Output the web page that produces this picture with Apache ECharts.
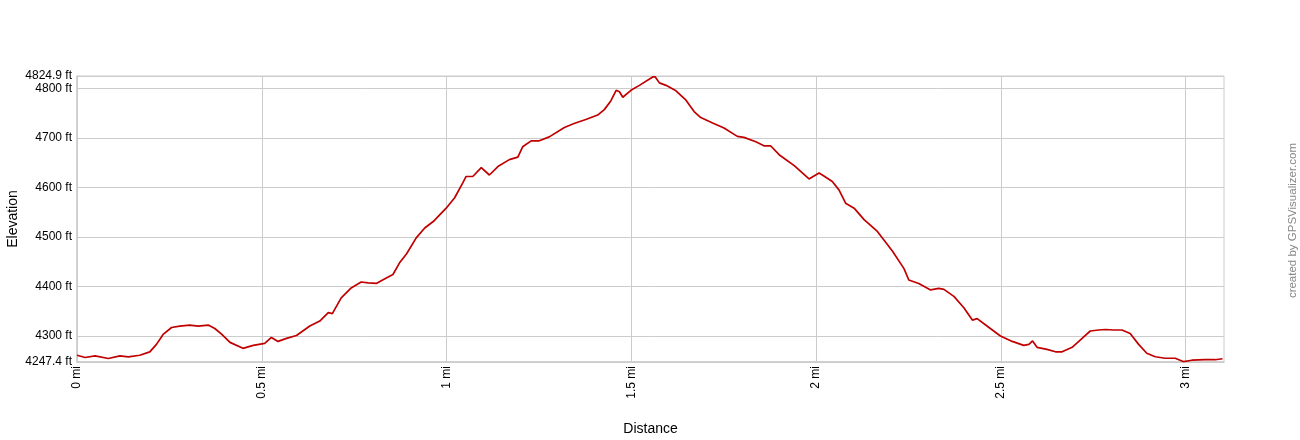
<!DOCTYPE html>
<html>
<head>
<meta charset="utf-8">
<script src="https://cdn.jsdelivr.net/npm/echarts@6/dist/echarts.min.js"></script>
<style>
html,body{margin:0;padding:0;background:#fff;}
#chart{width:1300px;height:440px;}
</style>
</head>
<body>
<div id="chart"></div>
<script>
// Distance along track (miles)
var distances = [0.000,0.022,0.049,0.085,0.116,0.139,0.170,0.197,0.215,0.233,0.256,0.278,0.305,0.328,0.355,0.373,0.392,0.414,0.449,0.477,0.508,0.526,0.544,0.567,0.594,0.630,0.657,0.680,0.691,0.715,0.742,0.769,0.788,0.810,0.832,0.855,0.874,0.892,0.918,0.941,0.964,0.999,1.022,1.044,1.053,1.071,1.094,1.116,1.139,1.170,1.193,1.206,1.229,1.251,1.278,1.319,1.345,1.377,1.409,1.427,1.445,1.459,1.468,1.477,1.499,1.522,1.558,1.565,1.576,1.594,1.621,1.648,1.670,1.688,1.720,1.751,1.787,1.805,1.837,1.859,1.877,1.900,1.941,1.981,2.008,2.017,2.044,2.062,2.080,2.103,2.130,2.166,2.207,2.238,2.251,2.278,2.310,2.332,2.346,2.373,2.400,2.423,2.436,2.468,2.499,2.531,2.562,2.576,2.586,2.598,2.625,2.648,2.666,2.693,2.720,2.742,2.765,2.783,2.805,2.828,2.850,2.873,2.895,2.918,2.945,2.972,2.995,3.017,3.053,3.080,3.100];
// Elevation (feet)
var elevations = [4261,4256.5,4259.7,4254.5,4259.7,4257.7,4261,4267.8,4283,4303,4317,4320,4322,4320,4322,4315,4303,4287,4275,4281,4285,4297,4289,4295,4301,4320,4330,4347,4345,4377,4397,4409,4407,4406,4415,4424,4449,4466,4498,4518,4531,4558,4579,4609,4622,4622,4640,4625,4642,4656,4661,4682,4694,4694,4702,4721,4729,4737,4746,4757,4775,4796,4793,4782,4796,4806,4823,4823,4811,4806,4795,4776,4753,4741,4730,4720,4703,4701,4692,4684,4684,4666,4644,4617,4629,4625,4612,4595,4568,4558,4535,4511,4471,4436,4413,4406,4393,4396,4394,4380,4357,4332,4335,4317,4300,4289,4281,4283,4290,4277,4273,4268,4268,4277,4295,4310,4312,4313,4312,4312,4305,4283,4265,4258,4255,4255,4248,4251,4252,4252,4254];
// Tick values
var xTicks = [0, 0.5, 1, 1.5, 2, 2.5, 3];
var yTicks = [4247.4, 4300, 4400, 4500, 4600, 4700, 4800, 4824.9];
var xMax = 3.104;
var yMin = 4247.4, yMax = 4824.9;

var points = distances.map(function(d, i){ return [d, elevations[i]]; });

var chart = echarts.init(document.getElementById('chart'));
var font = 'Arial, "Liberation Sans", sans-serif';
chart.setOption({
  animation: false,
  backgroundColor: '#fff',
  grid: {left: 77, right: 76, top: 76, bottom: 78, show: true, borderColor: '#cccccc', borderWidth: 1,
    containLabel: false, outerBoundsMode: 'none'},
  xAxis: {
    type: 'value', min: 0, max: xMax,
    name: 'Distance', nameLocation: 'middle', nameGap: 60, nameMoveOverlap: false,
    nameTextStyle: {color: '#000', fontSize: 14, fontFamily: font},
    axisLine: {show: true, lineStyle: {color: '#cccccc', width: 1.5}},
    axisTick: {show: false, customValues: xTicks},
    axisLabel: {customValues: xTicks, rotate: 90, margin: 4, color: '#000', fontSize: 12, fontFamily: font,
      formatter: function(v){ return v + ' mi'; }},
    splitLine: {show: true, lineStyle: {color: '#cccccc', width: 1}}
  },
  yAxis: {
    type: 'value', min: yMin, max: yMax,
    name: 'Elevation', nameLocation: 'middle', nameGap: 57, nameRotate: 90, nameMoveOverlap: false,
    nameTextStyle: {color: '#000', fontSize: 14, fontFamily: font},
    axisLine: {show: true, lineStyle: {color: '#cccccc', width: 1.5}},
    axisTick: {show: false, customValues: yTicks},
    axisLabel: {customValues: yTicks, margin: 5, color: '#000', fontSize: 12, fontFamily: font,
      formatter: function(v){ return v + ' ft'; }},
    splitLine: {show: true, lineStyle: {color: '#cccccc', width: 1}}
  },
  graphic: [{
    type: 'text', left: 1287, top: 143, rotation: Math.PI/2,
    style: {text: 'created by GPSVisualizer.com', fill: '#888', font: '11.5px ' + font}
  }],
  series: [{
    type: 'line', data: points, showSymbol: false, smooth: false,
    lineStyle: {color: '#c00000', width: 1.7},
    z: 5
  }]
});
</script>
</body>
</html>
